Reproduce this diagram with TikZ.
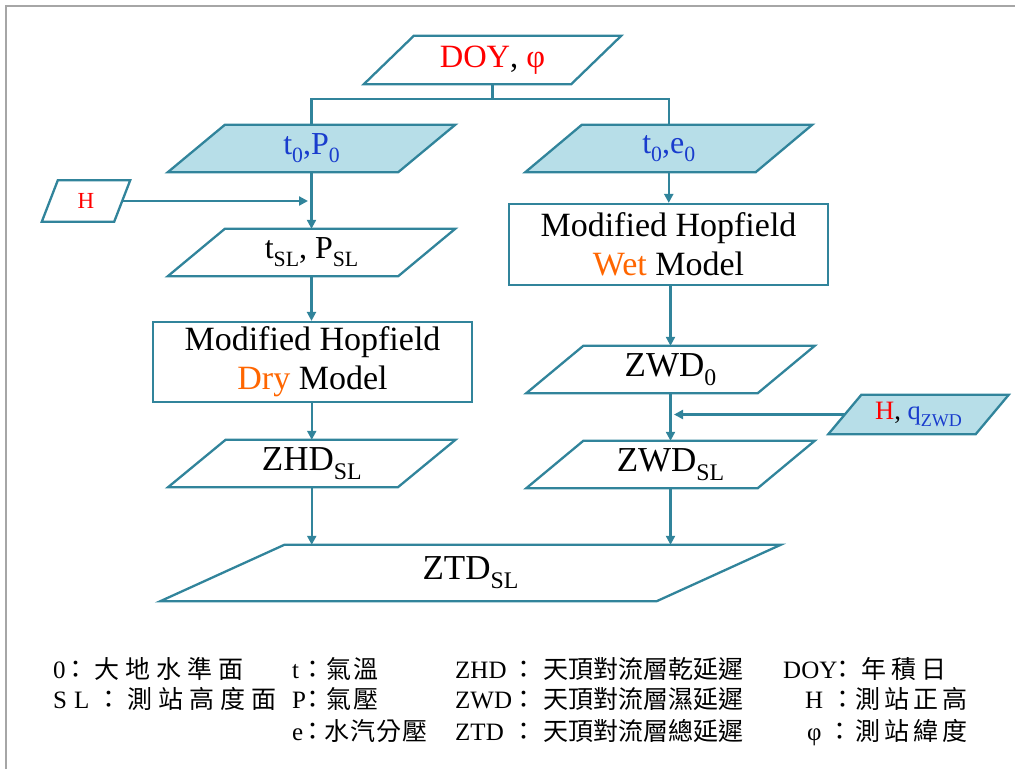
\documentclass[tikz,border=0pt]{standalone}
\usepackage{fontspec}
\usepackage{graphicx}
\setmainfont{Liberation Serif}
\newfontfamily\cjk{Noto Sans CJK TC}
\newfontfamily\cjkp[RawFeature=+palt]{Noto Sans CJK TC}
\usetikzlibrary{arrows.meta,calc}
\definecolor{lineC}{RGB}{49,132,155}
\definecolor{fillC}{RGB}{183,222,232}
\definecolor{txtblue}{RGB}{25,60,205}
\definecolor{orng}{RGB}{255,102,0}
\definecolor{frameC}{RGB}{166,166,166}
\newcommand\sbs[1]{\raisebox{-0.25em}{\scalebox{0.68}{#1}}}
\newcommand\cjkspaced[2]{\def\cjkpitch{#1}{\cjk\cjkloop#2\relax}}
\def\cjkloop#1{\ifx#1\relax\else\makebox[\cjkpitch][l]{#1}\expandafter\cjkloop\fi}
\newcommand\pgram[3]{\draw[#3] ([xshift=#2pt]#1.north west) -- ([xshift=#2pt]#1.north east) -- ([xshift=-#2pt]#1.south east) -- ([xshift=-#2pt]#1.south west) -- cycle;}
% legend entry: latin-box width, latin, gap after colon, pitch, chinese
\newcommand\lgentry[5]{\makebox[#1][l]{#2}\makebox[0pt]{{\cjkp ：}}\hspace{#3}\cjkspaced{#4}{#5}}
\pgfdeclarelayer{bg}
\pgfsetlayers{bg,main}
\tikzset{
  blk/.style={inner sep=0, align=center},
  big/.style={font=\fontsize{35}{39}\selectfont},
  hop/.style={font=\fontsize{34}{39}\selectfont},
  mid/.style={font=\fontsize{32}{36}\selectfont},
  pg/.style={draw=lineC, line width=2.3pt, line join=miter, fill=white},
  pgf/.style={pg, fill=fillC},
  rbox/.style={draw=lineC, line width=2.2pt, fill=white},
  ln/.style={draw=lineC, line width=2.2pt},
  arr/.style={ln, -{Triangle[length=9pt,width=9pt]}},
  lg/.style={anchor=base west, inner sep=0, font=\fontsize{25}{28}\selectfont}
}
\begin{document}
\begin{tikzpicture}[x=1pt,y=-1pt]
\useasboundingbox (0,0) rectangle (1015,769);
\draw[frameC, line width=1.5pt] (6,769) -- (6,6) -- (1015,6);
% nodes
\node[blk, minimum width=207, minimum height=48, font=\fontsize{32.5}{36}\selectfont] (DOY) at (492.5,60) {\textcolor{red}{DOY}, \textcolor{red}{φ}};
\node[blk, mid, minimum width=230, minimum height=47] (t0P0) at (311.5,148.5) {\textcolor{txtblue}{t\sbs{0},P\sbs{0}}};
\node[blk, mid, minimum width=230, minimum height=47] (t0e0) at (668.75,148.5) {\textcolor{txtblue}{t\sbs{0},e\sbs{0}}};
\node[blk, minimum width=72, minimum height=41, font=\fontsize{23}{26}\selectfont] (H) at (86,201) {\textcolor{red}{H}};
\node[blk, mid, minimum width=230, minimum height=47] (tSL) at (311.5,252.5) {t\sbs{SL}, P\sbs{SL}};
\node[blk, hop, rbox, minimum width=319, minimum height=80] (Dry) at (312.5,362) {Modified Hopfield\\\textcolor{orng}{Dry} Model};
\node[blk, big, minimum width=229.5, minimum height=47] (ZHD) at (311.75,463.5) {ZHD\sbs{SL}};
\node[blk, hop, rbox, minimum width=319, minimum height=81] (Wet) at (668.5,244.5) {Modified Hopfield\\\textcolor{orng}{Wet} Model};
\node[blk, big, minimum width=231, minimum height=47] (ZWD0) at (670.5,369.5) {ZWD\sbs{0}};
\node[blk, big, minimum width=231, minimum height=47] (ZWDSL) at (670.5,464.5) {ZWD\sbs{SL}};
\node[blk, minimum width=147, minimum height=39, font=\fontsize{26.5}{30}\selectfont] (Hq) at (918.5,414.5) {\textcolor{red}{H}, \textcolor{txtblue}{q\sbs{ZWD}}};
\node[blk, big, minimum width=496, minimum height=56] (ZTD) at (470.5,573) {ZTD\sbs{SL}};
\begin{pgfonlayer}{bg}
\pgram{DOY}{25}{pg}
\pgram{t0P0}{28.5}{pgf}
\pgram{t0e0}{28.25}{pgf}
\pgram{H}{8}{pg}
\pgram{tSL}{28.5}{pg}
\pgram{ZHD}{28.75}{pg}
\pgram{ZWD0}{28.5}{pg}
\pgram{ZWDSL}{28.5}{pg}
\pgram{Hq}{16.5}{pgf}
\pgram{ZTD}{62}{pg}
\end{pgfonlayer}
% connectors
\draw[ln] (DOY.south) -- ++(0,15) coordinate (j);
\draw[ln] (j) -| (t0P0.north);
\draw[ln] (j) -| (t0e0.north);
\draw[arr] (t0P0.south) -- (tSL.north);
\coordinate (hend) at (308,201);
\draw[arr] (H.east) -- (hend);
\draw[arr] (tSL.south) -- (tSL.south |- Dry.north);
\draw[arr] (Dry.south -| ZHD.north) -- (ZHD.north);
\draw[arr] (ZHD.south) -- (ZHD.south |- ZTD.north);
\draw[arr] (t0e0.south) -- (t0e0.south |- Wet.north);
\draw[arr] (ZWD0.north |- Wet.south) -- (ZWD0.north);
\draw[arr] (ZWD0.south) -- (ZWDSL.north);
\coordinate (qend) at (674,414.5);
\draw[arr] (Hq.west) -- (qend);
\draw[arr] (ZWDSL.south) -- (ZWDSL.south |- ZTD.north);
% legend
\node[lg] (a1) at (53,678) {\lgentry{23pt}{0}{18pt}{31pt}{大地水準面}};
\node[lg] (a2) at (53,708) {\lgentry{56pt}{S\hspace{7pt}L}{18pt}{31pt}{測站高度面}};
\node[lg] (b1) at (292,678) {\lgentry{21pt}{t}{13pt}{27pt}{氣溫}};
\node[lg] (b2) at (292,708) {\lgentry{21pt}{P}{13pt}{27pt}{氣壓}};
\node[lg] (b3) at (292,740) {\lgentry{21pt}{e}{11pt}{26pt}{水汽分壓}};
\node[lg] (c1) at (455,678) {\lgentry{69pt}{ZHD}{19pt}{25pt}{天頂對流層乾延遲}};
\node[lg] (c2) at (455,708) {\lgentry{69pt}{ZWD}{19pt}{25pt}{天頂對流層濕延遲}};
\node[lg] (c3) at (455,740) {\lgentry{69pt}{ZTD}{19pt}{25pt}{天頂對流層總延遲}};
\node[lg] (d1) at (783,678) {\lgentry{60pt}{DOY}{18pt}{30pt}{年積日}};
\node[lg] (d2) at (805,708) {\lgentry{38pt}{H}{12pt}{29pt}{測站正高}};
\node[lg] (d3) at (807,740) {\lgentry{33pt}{φ}{15pt}{29pt}{測站緯度}};
\end{tikzpicture}
\end{document}
